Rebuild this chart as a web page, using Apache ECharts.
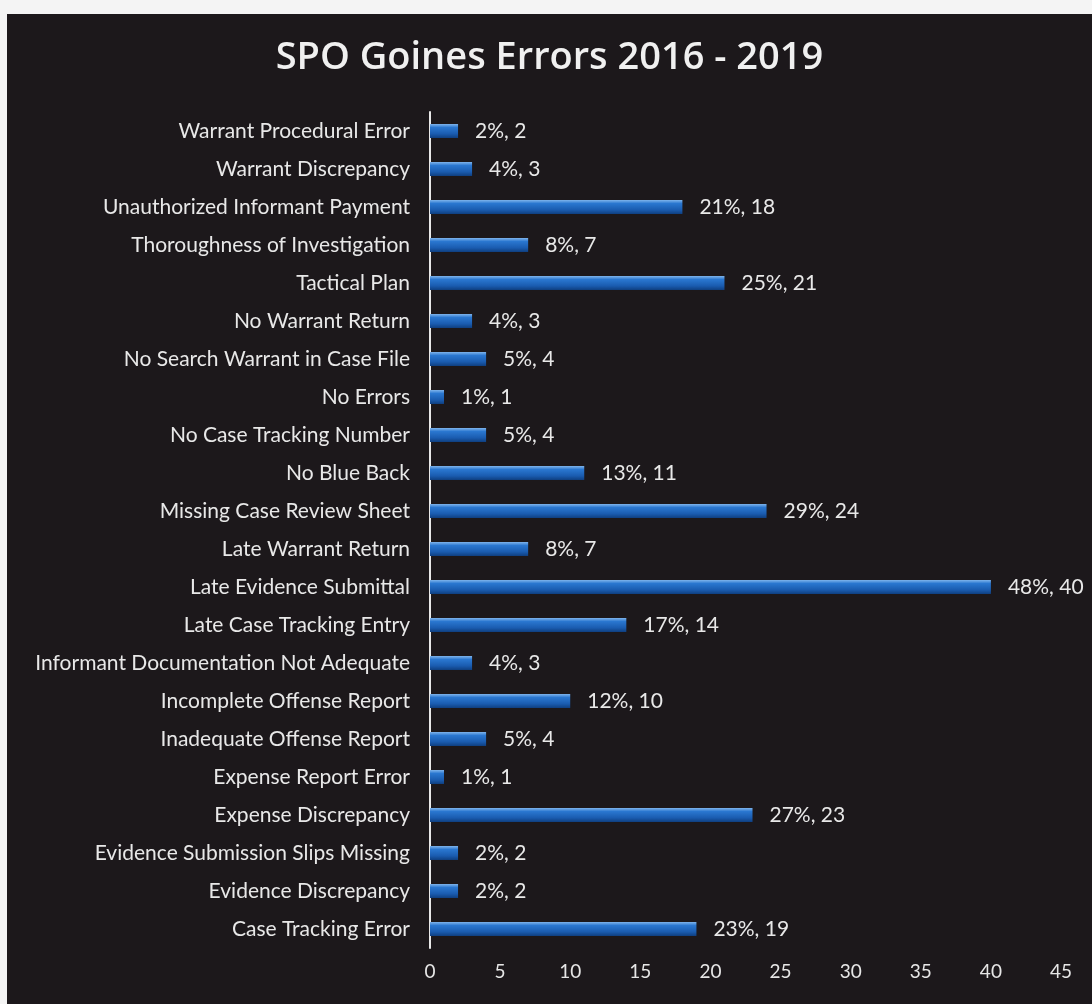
<!DOCTYPE html>
<html>
<head>
<meta charset="utf-8">
<script src="https://cdn.jsdelivr.net/npm/echarts@6/dist/echarts.min.js"></script>
<style>
  html, body { margin: 0; padding: 0; background: #f4f4f4; }
  #chart {
    position: absolute;
    left: 7px;
    top: 14px;
    width: 1085px;
    height: 990px;
    background: #1c181b;
  }
</style>
</head>
<body>
<div id="chart"></div>
<script>
// top to bottom, as shown in the picture
const categories = [
  'Warrant Procedural Error',
  'Warrant Discrepancy',
  'Unauthorized Informant Payment',
  'Thoroughness of Investigation',
  'Tactical Plan',
  'No Warrant Return',
  'No Search Warrant in Case File',
  'No Errors',
  'No Case Tracking Number',
  'No Blue Back',
  'Missing Case Review Sheet',
  'Late Warrant Return',
  'Late Evidence Submittal',
  'Late Case Tracking Entry',
  'Informant Documentation Not Adequate',
  'Incomplete Offense Report',
  'Inadequate Offense Report',
  'Expense Report Error',
  'Expense Discrepancy',
  'Evidence Submission Slips Missing',
  'Evidence Discrepancy',
  'Case Tracking Error'
]
const counts = [2, 3, 18, 7, 21, 3, 4, 1, 4, 11, 24, 7, 40, 14, 3, 10, 4, 1, 23, 2, 2, 19]
const percents = [2, 4, 21, 8, 25, 4, 5, 1, 5, 13, 29, 8, 48, 17, 4, 12, 5, 1, 27, 2, 2, 23]
const xTicks = [0, 5, 10, 15, 20, 25, 30, 35, 40, 45]

const chart = echarts.init(document.getElementById('chart'))
const fontFam = 'Lato, "Open Sans", sans-serif'

chart.setOption({
  backgroundColor: '#1c181b',
  title: {
    text: 'SPO Goines Errors 2016 - 2019',
    left: 'center',
    top: 20,
    textStyle: {
      color: '#f0f0f0',
      fontSize: 38,
      fontWeight: 600,
      fontFamily: '"Open Sans", Lato, sans-serif'
    }
  },
  grid: {
    left: 423,
    right: 31,
    top: 98,
    bottom: 56
  },
  xAxis: {
    type: 'value',
    min: xTicks[0],
    max: xTicks[xTicks.length - 1],
    interval: 5,
    axisLine: { show: false },
    axisTick: { show: false },
    splitLine: { show: false },
    axisLabel: {
      color: '#e6e6e6',
      fontSize: 19,
      fontFamily: fontFam,
      margin: 14
    }
  },
  yAxis: {
    type: 'category',
    inverse: true,
    data: categories,
    axisLine: { show: true, lineStyle: { color: '#e8e8e8', width: 2 } },
    axisTick: { show: false },
    axisLabel: {
      color: '#e8e8e8',
      fontSize: 21,
      fontFamily: fontFam,
      margin: 20
    }
  },
  series: [{
    type: 'bar',
    data: counts,
    barWidth: 14,
    itemStyle: {
      color: new echarts.graphic.LinearGradient(0, 0, 0, 1, [
        { offset: 0, color: '#7fb4ec' },
        { offset: 0.25, color: '#2a77d0' },
        { offset: 0.7, color: '#1a5cb0' },
        { offset: 1, color: '#0f3f80' }
      ])
    },
    label: {
      show: true,
      position: 'right',
      distance: 17,
      color: '#e8e8e8',
      fontSize: 21,
      fontFamily: fontFam,
      formatter: p => percents[p.dataIndex] + '%, ' + p.value
    }
  }]
})
</script>
</body>
</html>
